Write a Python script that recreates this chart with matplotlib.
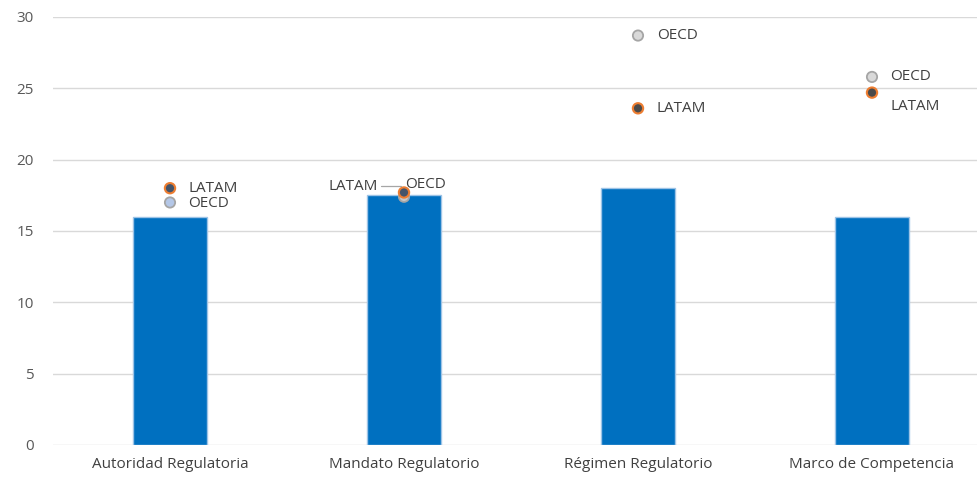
import matplotlib
matplotlib.use("Agg")
import matplotlib.pyplot as plt

categories = ["Autoridad Regulatoria", "Mandato Regulatorio", "Régimen Regulatorio", "Marco de Competencia"]
country_values = [16.0, 17.5, 18.0, 16.0]
latam_values = [18.0, 17.7, 23.6, 24.7]
oecd_values = [17.0, 17.4, 28.7, 25.8]
yticks = [0, 5, 10, 15, 20, 25, 30]

plt.rcParams['font.family'] = ['Open Sans', 'DejaVu Sans']

fig = plt.figure(figsize=(9.77, 4.78), dpi=100)
ax = fig.add_axes([53/977, 33/478, 1 - 53/977, (445-17)/478])

x = list(range(len(categories)))
ax.bar(x, country_values, width=0.316, color="#0070C0", edgecolor="#9DC3E6", linewidth=1, zorder=2)

oecd_fill = ["#B4C7E7", "#C9C9C9", "#D9D9D9", "#D9D9D9"]
latam_fill = ["#44546A", "#44546A", "#4A4A4A", "#4A4A4A"]
ax.scatter(x, oecd_values, s=55, c=oecd_fill, edgecolors="#A5A5A5", linewidths=1.3, zorder=3)
ax.scatter(x, latam_values, s=55, c=latam_fill, edgecolors="#ED7D31", linewidths=1.5, zorder=4)

px = 0.72
tc = "#404040"
fs = 11
latam_off = [(18, 0, 'left'), (-26, 6, 'right'), (19, 0, 'left'), (19, -14, 'left')]
oecd_off = [(18, -1, 'left'), (1, 12, 'left'), (19, 0, 'left'), (18, 0, 'left')]
for i in x:
    dx, dy, ha = latam_off[i]
    ax.annotate("LATAM", (i, latam_values[i]), xytext=(dx*px, dy*px), textcoords="offset points",
                ha=ha, va="center", fontsize=fs, color=tc, zorder=5)
    dx, dy, ha = oecd_off[i]
    ax.annotate("OECD", (i, oecd_values[i]), xytext=(dx*px, dy*px), textcoords="offset points",
                ha=ha, va="center", fontsize=fs, color=tc, zorder=5)

# leader line for Mandato Regulatorio LATAM label
ax.annotate("", xy=(1, latam_values[1]), xytext=(-23*px, 6*px), textcoords="offset points",
            arrowprops=dict(arrowstyle="-", color="#A6A6A6", lw=0.9,
                            shrinkA=0, shrinkB=5, connectionstyle="angle,angleA=0,angleB=60,rad=3"),
            zorder=5)

ax.set_xlim(-0.5, 3 + (977-872)/234)
ax.set_ylim(0, 30)
ax.set_yticks(yticks)
ax.set_xticks(x)
ax.set_xticklabels(categories)
ax.yaxis.grid(True, color="#D9D9D9", linewidth=1, zorder=0)
ax.set_axisbelow(True)
for s in ax.spines.values():
    s.set_visible(False)
ax.tick_params(axis='y', length=0, pad=14, labelsize=fs, labelcolor="#595959")
ax.tick_params(axis='x', length=0, pad=9, labelsize=fs, labelcolor="#404040")

fig.savefig("out.png", dpi=100, facecolor="white")
